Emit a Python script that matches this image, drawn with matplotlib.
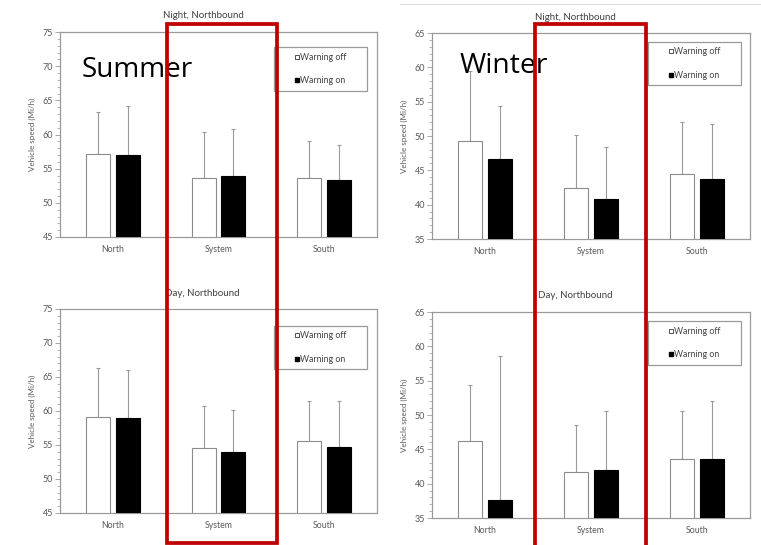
import matplotlib
matplotlib.use("Agg")
import matplotlib.pyplot as plt
from matplotlib.patches import Rectangle
from matplotlib.lines import Line2D
import numpy as np

categories = ["North", "System", "South"]
series_labels = ["Warning off", "Warning on"]

# Summer, night
summer_night_off = [57.2, 53.6, 53.6]
summer_night_off_err = [6.1, 6.8, 5.4]
summer_night_on = [57.05, 53.9, 53.4]
summer_night_on_err = [7.05, 6.9, 5.1]
# Summer, day
summer_day_off = [59.1, 54.6, 55.55]
summer_day_off_err = [7.2, 6.15, 5.85]
summer_day_on = [59.0, 54.0, 54.7]
summer_day_on_err = [7.05, 6.2, 6.8]
# Winter, night
winter_night_off = [49.3, 42.4, 44.4]
winter_night_off_err = [10.2, 7.7, 7.7]
winter_night_on = [46.65, 40.8, 43.7]
winter_night_on_err = [7.65, 7.6, 8.1]
# Winter, day
winter_day_off = [46.2, 41.65, 43.6]
winter_day_off_err = [8.1, 6.85, 7.0]
winter_day_on = [37.6, 42.0, 43.6]
winter_day_on_err = [21.0, 8.6, 8.5]

summer_ylim = (45, 75)
winter_ylim = (35, 65)
summer_yticks = [45, 50, 55, 60, 65, 70, 75]
winter_yticks = [35, 40, 45, 50, 55, 60, 65]

W, H = 761, 545
fig = plt.figure(figsize=(W / 100, H / 100), dpi=100)
fig.patch.set_facecolor("white")

FONT = ["Lato", "DejaVu Sans"]
GREY = "#9a9a9a"
TXT = "#595959"


def px_rect(x0, y0, x1, y1):
    return [x0 / W, 1 - y1 / H, (x1 - x0) / W, (y1 - y0) / H]


def panel(rect, off, off_err, on, on_err, ylim, yticks, title, title_xy, legend_px):
    ax = fig.add_axes(px_rect(*rect))
    x = np.arange(len(categories))
    bw = 0.225
    ax.bar(x - 0.14, np.array(off) - ylim[0], bw, bottom=ylim[0],
           color="white", edgecolor="#8c8c8c", linewidth=0.8, zorder=3)
    ax.bar(x + 0.14, np.array(on) - ylim[0], bw, bottom=ylim[0],
           color="black", edgecolor="black", linewidth=0.8, zorder=3)
    for xs, vals, errs in ((x - 0.14, off, off_err), (x + 0.14, on, on_err)):
        ax.errorbar(xs, vals, yerr=[np.zeros(len(errs)), errs], fmt="none",
                    ecolor=GREY, elinewidth=0.8, capsize=1.6, capthick=0.8, zorder=2)
    ax.set_xlim(-0.5, 2.5)
    ax.set_ylim(*ylim)
    ax.set_yticks(yticks)
    ax.set_yticks(np.arange(ylim[0], ylim[1] + 0.1, 1), minor=True)
    ax.set_xticks(x)
    ax.set_xticklabels(categories, fontsize=6.3, color=TXT, family=FONT)
    ax.tick_params(axis="x", length=0, pad=6)
    ax.tick_params(axis="y", which="major", length=3.5, width=0.6, color=GREY,
                   labelsize=6.5, labelcolor=TXT, pad=1.5)
    ax.tick_params(axis="y", which="minor", length=2, width=0.5, color=GREY)
    for lab in ax.get_yticklabels():
        lab.set_family(FONT)
    for s in ax.spines.values():
        s.set_color(GREY)
        s.set_linewidth(0.9)
    ax.set_ylabel("Vehicle speed (Mi/h)", fontsize=5.8, color=TXT, family=FONT)
    ax.yaxis.set_label_coords(-24 / (rect[2] - rect[0]), 0.5)
    # legend box
    lx0, ly0, lx1, ly1 = legend_px
    fig.patches.append(Rectangle((lx0 / W, 1 - ly1 / H), (lx1 - lx0) / W, (ly1 - ly0) / H,
                                 transform=fig.transFigure, facecolor="white",
                                 edgecolor=GREY, linewidth=0.9, zorder=5))
    handles = [Line2D([], [], marker="s", linestyle="none", markersize=3.4,
                      markerfacecolor="white", markeredgecolor="#333333", markeredgewidth=0.6),
               Line2D([], [], marker="s", linestyle="none", markersize=3.4,
                      markerfacecolor="black", markeredgecolor="black")]
    leg = fig.legend(handles, series_labels, loc="center",
                     bbox_to_anchor=((lx0 + lx1) / 2 / W, 1 - (ly0 + ly1) / 2 / H),
                     frameon=False, handlelength=0.5, handletextpad=0.15,
                     labelspacing=1.65, borderpad=0.2, prop={"family": FONT, "size": 6.3})
    for t in leg.get_texts():
        t.set_color("#404040")
    leg.set_zorder(6)
    fig.text(title_xy[0] / W, 1 - title_xy[1] / H, title, ha="center", va="center",
             fontsize=7, color="#404040", family=FONT)
    return ax


panel((60, 32, 377, 237), summer_night_off, summer_night_off_err, summer_night_on,
      summer_night_on_err, summer_ylim, summer_yticks, "Night, Northbound", (203, 15),
      (274, 47, 367, 91))
panel((432, 33, 750, 239), winter_night_off, winter_night_off_err, winter_night_on,
      winter_night_on_err, winter_ylim, winter_yticks, "Night, Northbound", (575, 17),
      (648, 42, 741, 85))
panel((60, 309, 377, 513), summer_day_off, summer_day_off_err, summer_day_on,
      summer_day_on_err, summer_ylim, summer_yticks, "Day, Northbound", (202, 293),
      (274, 326, 367, 369))
panel((432, 312, 750, 518), winter_day_off, winter_day_off_err, winter_day_on,
      winter_day_on_err, winter_ylim, winter_yticks, "Day, Northbound", (575, 295),
      (648, 321, 741, 365))

# season labels
fig.text(82 / W, 1 - 77 / H, "Summer", fontsize=20.1, color="black",
         family=["Open Sans", "DejaVu Sans"], ha="left", va="baseline", zorder=8)
fig.text(460 / W, 1 - 73 / H, "Winter", fontsize=20.4, color="black",
         family=["Open Sans", "DejaVu Sans"], ha="left", va="baseline", zorder=8)

# thin separator line at the top right
fig.add_artist(Line2D([400 / W, 1.0], [1 - 4 / H, 1 - 4 / H], transform=fig.transFigure,
                      color="#dddddd", linewidth=0.8))

# red highlight rectangles
RED = "#c00000"
fig.patches.append(Rectangle((167 / W, 1 - 543 / H), (277 - 167) / W, (543 - 24) / H,
                             transform=fig.transFigure, fill=False, edgecolor=RED,
                             linewidth=2.7, zorder=10))
fig.patches.append(Rectangle((535 / W, -0.05), (646 - 535) / W, 1 - 24 / H + 0.05,
                             transform=fig.transFigure, fill=False, edgecolor=RED,
                             linewidth=2.7, zorder=10))

fig.savefig("out.png", dpi=100)
